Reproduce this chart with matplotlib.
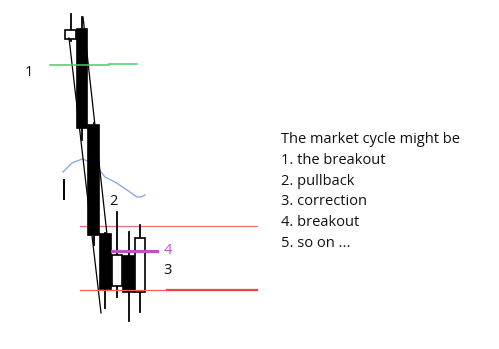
import matplotlib
matplotlib.use("Agg")
import matplotlib.pyplot as plt
from matplotlib.patches import Rectangle

# candles: open, high, low, close (price units)
opens = [310, 320, 224, 115, 63, 93, 57]
highs = [335, 332, 226, 116, 137, 117, 124]
lows = [308, 209, 104, 41, 52, 28, 37]
closes = [319, 221, 114, 60, 94, 57, 111]

# trendlines (candle index, price)
trend_a = ([-0.13, 2.63], [311, 36])
trend_b = ([1.08, 3.15], [332, 114])

# moving average-ish blue curve
ma_x = [-0.65, 0.13, 1.0, 1.68, 2.37, 2.97, 3.84, 4.87, 5.73, 6.08, 6.42]
ma_y = [177, 186, 190, 187, 181, 172, 167, 159, 152, 152, 154]

green_level = 284.5
red_upper = 123.3
red_lower = 59
magenta_level = 98

notes = ["The market cycle might be", "1. the breakout", "2. pullback",
         "3. correction", "4. breakout", "5. so on ..."]

W, H = 499, 349
fig = plt.figure(figsize=(W / 100, H / 100), dpi=100)
ax = fig.add_axes([0, 0, 1, 1])
ax.set_xlim(-6.078, 36.94)
ax.set_ylim(0, H)
ax.axis("off")

body_w = 0.9
for i, (o, h, l, c) in enumerate(zip(opens, highs, lows, closes)):
    ax.plot([i, i], [l, h], color="black", lw=1.3, zorder=2)
    bull = c >= o
    ax.add_patch(Rectangle((i - body_w / 2, min(o, c)), body_w, abs(c - o),
                           facecolor="white" if bull else "black",
                           edgecolor="black", lw=1.2, zorder=3))

ax.plot(*trend_a, color="black", lw=0.9, zorder=4)
ax.plot(*trend_b, color="black", lw=0.9, zorder=4)

ax.plot(ma_x, ma_y, color="#8ea6f0", lw=1.0, zorder=1)
ax.plot([-0.56, -0.56], [150, 169], color="black", lw=1.4)

ax.plot([-1.77, 3.32], [green_level, green_level], color="#48cc64", lw=1.1, zorder=5)
ax.plot([3.32, 5.73], [green_level + 0.8, green_level + 0.8], color="#48cc64", lw=1.1, zorder=5)

ax.plot([0.82, 16.08], [red_upper, red_upper], color="#f07070", lw=0.9, zorder=1)
ax.plot([0.82, 16.08], [red_lower, red_lower], color="#f06060", lw=0.9, zorder=5)
ax.plot([8.32, 16.08], [red_lower, red_lower], color="#e84848", lw=1.6, zorder=5)

ax.plot([3.58, 7.46], [magenta_level, magenta_level], color="#c050c8", lw=2.2, zorder=5)

fs = 10.5
fam = ["Open Sans", "DejaVu Sans"]
txt = "#111111"
fig.text(29 / W, 1 - 73 / H, "1", fontsize=fs, family=fam, ha="center", va="center", color=txt)
fig.text(113 / W, 1 - 202 / H, "2", fontsize=fs, family=fam, ha="center", va="center", color=txt)
fig.text(167 / W, 1 - 270 / H, "3", fontsize=fs, family=fam, ha="center", va="center", color=txt)
fig.text(168 / W, 1 - 250 / H, "4", fontsize=fs, family=fam, ha="center", va="center", color="#c050c8")

for k, line in enumerate(notes):
    fig.text(281 / W, 1 - (143 + 20.8 * k) / H, line, fontsize=fs, family=fam,
             ha="left", va="baseline", color=txt)

fig.savefig("out.png", dpi=100)
